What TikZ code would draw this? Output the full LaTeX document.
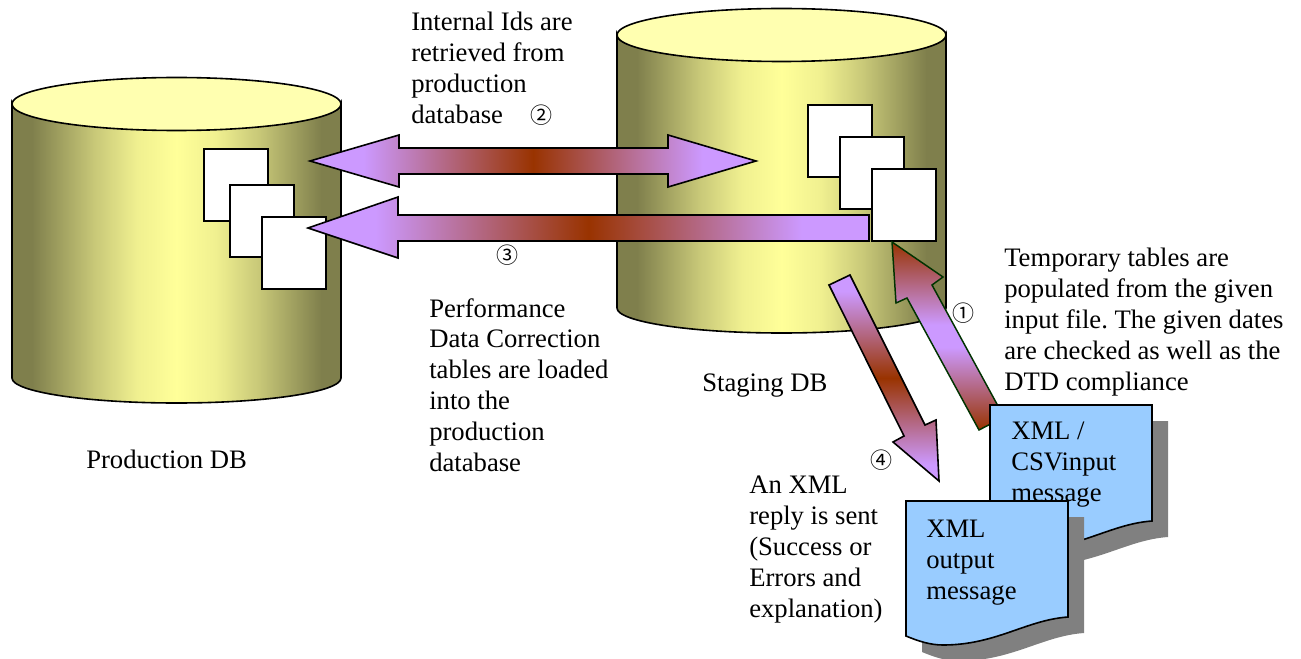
\documentclass[tikz,border=0pt]{standalone}
\usepackage{fontspec}
\setmainfont{Liberation Serif}
\newfontfamily\circfont{Noto Sans CJK JP}
\definecolor{cdark}{HTML}{7F7F4C}
\definecolor{cmid}{HTML}{C8C878}
\definecolor{cpale}{HTML}{F0F090}
\definecolor{clight}{HTML}{FFFF99}
\definecolor{ctop}{HTML}{FFFFB0}
\definecolor{apurple}{HTML}{CC99FF}
\definecolor{abrown}{HTML}{993300}
\definecolor{docblue}{HTML}{99CCFF}
\definecolor{docshadow}{HTML}{808080}
\definecolor{agreen}{HTML}{003300}
\pgfdeclarehorizontalshading{cylshade}{100bp}{color(0bp)=(cdark); color(25bp)=(cdark); color(28bp)=(cdark); color(37.5bp)=(cmid); color(44bp)=(cpale); color(50bp)=(clight); color(56bp)=(cpale); color(62.5bp)=(cmid); color(72bp)=(cdark); color(75bp)=(cdark); color(100bp)=(cdark)}
\pgfdeclarehorizontalshading{harrowshade}{100bp}{color(0bp)=(apurple); color(31bp)=(apurple); color(50bp)=(abrown); color(69bp)=(apurple); color(100bp)=(apurple)}
\pgfdeclareverticalshading{downshade}{100bp}{color(0bp)=(apurple); color(29bp)=(apurple); color(50bp)=(abrown); color(71bp)=(apurple); color(100bp)=(apurple)}
\pgfdeclareverticalshading{upshade}{100bp}{color(0bp)=(abrown); color(25bp)=(abrown); color(47bp)=(apurple); color(53bp)=(apurple); color(75bp)=(abrown); color(100bp)=(abrown)}
\tikzset{
  x=0.75pt,y=-0.75pt,
  outl/.style={draw=black,line width=1.2pt,line join=miter},
  cylbody/.style={outl,shading=cylshade},
  cyltop/.style={outl,fill=ctop},
  sheet/.style={outl,fill=white},
  harrow/.style={outl,shading=harrowshade},
  varrow/.style={outl,shading=downshade},
  greenarrow/.style={draw=agreen,line width=1.1pt,line join=miter,shading=upshade},
  docshape/.style={outl,fill=docblue},
  docshade/.style={fill=docshadow,draw=none},
  lbl/.style={anchor=north west,inner sep=0pt,align=left,font=\fontsize{20}{23.2}\selectfont\frenchspacing},
  circmark/.style={inner sep=0pt,font=\circfont\fontsize{16.5}{18}\selectfont},
}
\newcommand{\docpath}{(0,0) -- (162,0) -- (162,116) .. controls (120,119) and (90,144) .. (37,144) .. controls (24,144) and (12,140) .. (0,135) -- cycle}
\begin{document}
\begin{tikzpicture}
\useasboundingbox (0,0) rectangle (1301,659);
% left cylinder
\path[cylbody] (12,104) -- (12,378) arc[start angle=180,end angle=360,x radius=164.5,y radius=-25] -- (341,104) arc[start angle=360,end angle=180,x radius=164.5,y radius=-25] -- cycle;
\path[cyltop] (176.5,104) ellipse[x radius=164.5,y radius=26.5];
% right cylinder
\path[cylbody] (617,35) -- (617,308) arc[start angle=180,end angle=360,x radius=164.5,y radius=-25] -- (946,35) arc[start angle=360,end angle=180,x radius=164.5,y radius=-25] -- cycle;
\path[cyltop] (781.5,35) ellipse[x radius=164.5,y radius=26.5];
% sheets
\path[sheet] (204,149) rectangle (268,221);
\path[sheet] (230,185) rectangle (294,257);
\path[sheet] (262,217) rectangle (326,289);
\path[sheet] (808,105) rectangle (872,177);
\path[sheet] (840,137) rectangle (904,209);
\path[sheet] (872,169) rectangle (936,241);
% horizontal arrows
\path[harrow] (310,161) -- (399,135) -- (399,148) -- (668,148) -- (668,135) -- (756,161) -- (668,187) -- (668,174) -- (399,174) -- (399,187) -- cycle;
\path[harrow] (308,228) -- (398,197) -- (398,215) -- (869,215) -- (869,241) -- (398,241) -- (398,258) -- cycle;
% slanted arrows
\path[greenarrow] (892,242) -- (943,277) -- (932,285) -- (1004,417) -- (979,430) -- (907,298) -- (896,303) -- cycle;
\path[varrow] (829,285) -- (850,275) -- (925,425) -- (936,420) -- (939,481) -- (893,442) -- (904,436) -- cycle;
% input document
\path[docshade,shift={(1006,421)}] \docpath;
\path[docshape,shift={(990,405)}] \docpath;
\node[lbl] (input) at (1011,422) {XML /\\CSVinput\\message};
% output document
\path[docshade,shift={(922,517)}] \docpath;
\path[docshape,shift={(906,501)}] \docpath;
\node[lbl] (output) at (926,520) {XML\\output\\message};
% labels
\node[lbl] (ids) at (411,12) {Internal Ids are\\retrieved from\\production\\database};
\node[lbl] (perf) at (429,298) {Performance\\Data Correction\\tables are loaded\\into the\\production\\database};
\node[lbl] (temp) at (1004,248) {Temporary tables are\\populated from the given\\input file. The given dates\\are checked as well as the\\DTD compliance};
\node[lbl] (staging) at (702,374) {Staging DB};
\node[lbl] (prod) at (86,450) {Production DB};
\node[lbl] (reply) at (749,476) {An XML\\reply is sent\\(Success or\\Errors and\\explanation)};
\node[circmark] (m1) at (963,313) {①};
\node[circmark] (m2) at (541,115) {②};
\node[circmark] (m3) at (507,255) {③};
\node[circmark] (m4) at (881,460) {④};
\end{tikzpicture}
\end{document}
